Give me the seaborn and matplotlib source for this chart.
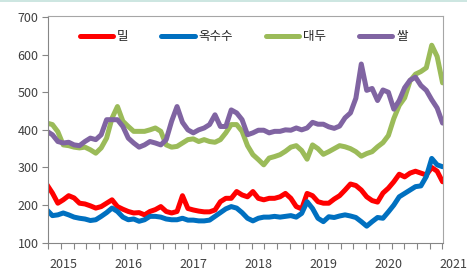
import numpy as np
import pandas as pd
import matplotlib
matplotlib.use("Agg")
import matplotlib.pyplot as plt
import matplotlib.transforms as mtransforms
from matplotlib.lines import Line2D
import seaborn as sns

# monthly values, Oct 2014 .. Nov 2020
months = pd.date_range("2014-10-01", "2020-11-01", freq="MS")

wheat = [254, 232, 205, 214, 225, 219, 205, 203, 198, 192, 196, 205,
         214, 196, 189, 183, 179, 180, 174, 183, 188, 196, 183, 179,
         183, 225, 191, 187, 184, 182, 182, 187, 209, 218, 218, 236,
         227, 222, 236, 218, 214, 218, 218, 222, 231, 218, 196, 190,
         231, 225, 209, 205, 205, 216, 225, 240, 256, 252, 240, 222,
         212, 208, 232, 245, 262, 282, 275, 285, 290, 285, 280, 300,
         290, 262]
corn = [187, 172, 174, 179, 174, 168, 165, 163, 159, 161, 170, 180,
        192, 183, 168, 161, 163, 157, 161, 170, 170, 168, 163, 161,
        161, 165, 160, 160, 158, 158, 160, 170, 180, 190, 196, 192,
        180, 165, 158, 165, 168, 168, 170, 168, 170, 172, 168, 178,
        209, 191, 165, 156, 169, 167, 171, 174, 171, 167, 156, 144,
        156, 167, 165, 182, 200, 222, 231, 240, 249, 251, 276, 324,
        307, 302]
soy = [418, 414, 395, 360, 358, 354, 352, 354, 347, 338, 352, 378,
       431, 462, 423, 409, 396, 396, 396, 400, 405, 396, 360, 354,
       356, 365, 374, 376, 369, 374, 369, 367, 374, 392, 414, 414,
       396, 358, 334, 321, 307, 325, 329, 334, 343, 354, 358, 345,
       322, 360, 350, 335, 342, 350, 358, 355, 350, 342, 330, 337,
       342, 355, 366, 385, 430, 465, 485, 530, 548, 555, 565, 625,
       595, 525]
rice = [396, 387, 369, 365, 367, 360, 358, 369, 378, 374, 387, 427,
        427, 427, 409, 378, 365, 354, 360, 369, 365, 360, 374, 423,
        462, 420, 400, 392, 400, 405, 414, 440, 409, 409, 453, 445,
        427, 387, 392, 399, 399, 392, 396, 396, 400, 399, 405, 400,
        405, 420, 415, 415, 408, 404, 410, 432, 445, 484, 575, 505,
        510, 478, 506, 500, 455, 478, 512, 532, 540, 518, 505, 480,
        458, 418]

items = ["밀", "옥수수", "대두", "쌀"]
colors = ["#FF0000", "#0070C0", "#9BBB59", "#8064A2"]

t = months.year + (months.month - 1) / 12
df = pd.DataFrame({"t": t, "밀": wheat, "옥수수": corn, "대두": soy, "쌀": rice})
df = df.melt(id_vars="t", var_name="item", value_name="price")

sns.set_theme(style="white")
plt.rcParams["font.family"] = ["Noto Sans CJK KR", "DejaVu Sans"]

W, H = 467, 271
fig = plt.figure(figsize=(W / 100, H / 100), dpi=100)
ax = fig.add_axes([48.3 / W, (H - 242.7) / H, (443 - 48.3) / W, (242.7 - 15.5) / H])

sns.lineplot(data=df, x="t", y="price", hue="item", hue_order=items,
             palette=colors, linewidth=3.6, ax=ax, legend=False)
for ln in ax.get_lines():
    ln.set_solid_joinstyle("round")

ax.set_xlim(2014.77, 2020.84)
ax.set_ylim(100, 704)
ax.set_xlabel("")
ax.set_ylabel("")

ax.set_yticks(range(100, 701, 100))
ax.tick_params(axis="y", length=4, width=0.8, color="#868686", left=True,
               labelsize=9, labelcolor="#404040", pad=3)

ax.set_xticks(range(2015, 2021))
ax.set_xticklabels([str(y) for y in range(2015, 2021)])
ax.set_xticks(np.arange(2014.77, 2020.85, 0.1955), minor=True)
ax.tick_params(axis="x", which="major", length=0, labelsize=9,
               labelcolor="#404040", pad=11)
ax.tick_params(axis="x", which="minor", length=4, width=0.8,
               color="#868686", bottom=True)
trans = mtransforms.blended_transform_factory(ax.transData, ax.transAxes)
ax.annotate("2021", xy=(2021, 0), xycoords=trans, xytext=(0, -11),
            textcoords="offset points", ha="center", va="top",
            fontsize=9, color="#404040", annotation_clip=False)

for side in ["left", "bottom"]:
    ax.spines[side].set_color("#868686")
    ax.spines[side].set_linewidth(0.8)
for side in ["top", "right"]:
    ax.spines[side].set_color("#A6A6A6")
    ax.spines[side].set_linewidth(0.8)

handles = [Line2D([], [], color=c, linewidth=3.6) for c in colors]
ax.legend(handles, items, loc="center", bbox_to_anchor=(0.495, 0.907),
          ncol=4, frameon=False, handlelength=2.7, handletextpad=0.3,
          columnspacing=2.6, fontsize=9)

fig.add_artist(Line2D([0, 1], [0.997, 0.997], transform=fig.transFigure,
                      color="#C4E2DB", linewidth=1.2))

fig.savefig("out.png", dpi=100)
